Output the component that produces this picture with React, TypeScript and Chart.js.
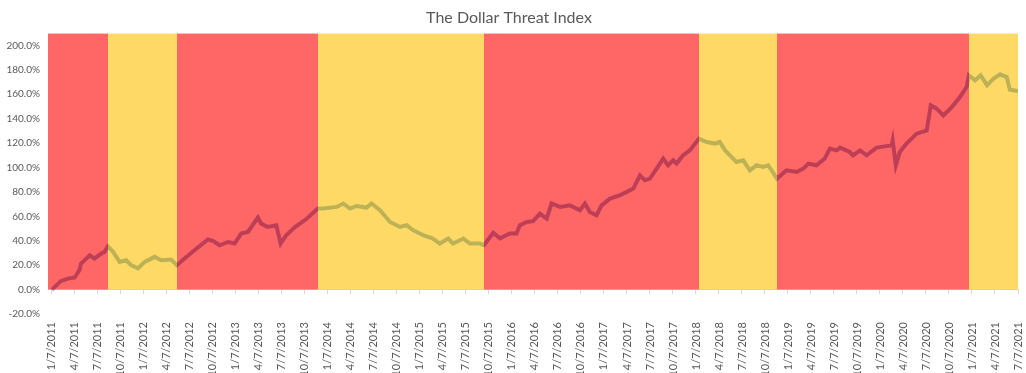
import React, { useEffect, useRef } from 'react';
import { Chart, registerables } from 'chart.js';

Chart.register(...registerables);

const chartTitle = 'The Dollar Threat Index';

// Index observations (date, percent)
const dates: string[] = [
  '2011-01-07', '2011-02-13', '2011-03-10', '2011-04-06', '2011-04-25', '2011-05-01', '2011-06-05', '2011-06-24',
  '2011-07-20', '2011-08-03', '2011-08-16', '2011-09-06', '2011-10-02', '2011-10-28', '2011-11-17', '2011-12-14',
  '2012-01-10', '2012-02-19', '2012-03-15', '2012-04-24', '2012-05-16', '2012-06-16', '2012-07-25', '2012-09-18',
  '2012-10-07', '2012-11-03', '2012-12-06', '2013-01-02', '2013-01-28', '2013-02-24', '2013-04-03', '2013-04-16',
  '2013-05-12', '2013-06-15', '2013-07-02', '2013-07-24', '2013-08-27', '2013-10-14', '2013-11-28', '2013-12-19',
  '2014-02-11', '2014-03-07', '2014-04-03', '2014-04-29', '2014-06-08', '2014-06-28', '2014-07-31', '2014-09-10',
  '2014-10-19', '2014-11-15', '2014-12-11', '2015-01-20', '2015-02-28', '2015-03-25', '2015-04-28', '2015-05-17',
  '2015-06-27', '2015-07-23', '2015-09-01', '2015-09-18', '2015-10-24', '2015-11-20', '2015-12-29', '2016-01-25',
  '2016-02-08', '2016-03-05', '2016-03-30', '2016-04-27', '2016-05-23', '2016-06-12', '2016-07-15', '2016-08-24',
  '2016-10-03', '2016-10-23', '2016-11-12', '2016-12-08', '2016-12-28', '2017-01-31', '2017-03-10', '2017-04-06',
  '2017-05-02', '2017-05-28', '2017-06-17', '2017-07-07', '2017-08-03', '2017-08-29', '2017-09-18', '2017-10-08',
  '2017-10-21', '2017-11-17', '2017-12-13', '2018-01-19', '2018-02-19', '2018-03-21', '2018-04-10', '2018-05-01',
  '2018-05-20', '2018-06-16', '2018-07-12', '2018-08-08', '2018-09-04', '2018-09-30', '2018-10-20', '2018-11-03',
  '2018-11-24', '2019-01-01', '2019-02-11', '2019-03-07', '2019-03-27', '2019-04-29', '2019-06-01', '2019-06-21',
  '2019-07-18', '2019-07-31', '2019-09-09', '2019-09-22', '2019-10-19', '2019-11-15', '2019-12-24', '2020-01-27',
  '2020-02-23', '2020-02-27', '2020-03-09', '2020-03-25', '2020-04-21', '2020-05-31', '2020-07-10', '2020-07-26',
  '2020-08-19', '2020-09-15', '2020-10-18', '2020-11-20', '2020-12-16', '2020-12-25', '2021-01-19', '2021-02-11',
  '2021-03-06', '2021-03-31', '2021-04-27', '2021-05-23', '2021-06-05', '2021-07-07',
];

const indexValues: number[] = [
  0.0, 7.1, 9.0, 9.9, 15.9, 21.4, 28.0, 25.4,
  29.5, 30.9, 35.5, 31.0, 22.7, 24.0, 20.0, 17.3,
  22.7, 26.8, 24.0, 24.6, 20.0, 25.4, 32.2, 41.0,
  39.9, 36.3, 39.0, 37.7, 45.9, 47.2, 59.0, 54.0,
  51.3, 52.7, 37.7, 44.5, 51.0, 58.0, 66.4, 66.4,
  67.7, 70.5, 66.4, 68.5, 67.2, 70.5, 65.0, 55.4,
  51.3, 52.7, 48.6, 44.5, 41.8, 37.7, 41.8, 37.7,
  41.8, 37.7, 37.7, 36.5, 46.5, 42.0, 45.9, 46.0,
  52.7, 55.4, 56.0, 62.2, 58.2, 70.5, 67.7, 69.0,
  65.0, 70.5, 63.6, 60.9, 69.0, 74.5, 77.3, 80.0,
  82.7, 93.6, 89.5, 90.9, 99.1, 107.3, 101.8, 105.9,
  103.2, 110.0, 114.0, 123.6, 120.9, 119.6, 120.9, 114.0,
  110.0, 104.5, 105.9, 97.7, 101.8, 100.4, 101.8, 97.7,
  90.9, 97.7, 96.3, 99.1, 103.2, 101.8, 107.3, 115.5,
  114.0, 116.3, 112.7, 110.0, 114.0, 110.0, 116.3, 117.3,
  118.2, 122.2, 101.8, 112.7, 119.6, 127.7, 130.4, 150.9,
  148.2, 142.7, 149.5, 157.7, 165.9, 175.5, 171.4, 175.5,
  167.3, 172.7, 176.3, 174.1, 163.7, 162.6,
];

// Regime shading: boundaries and the regime between each pair of boundaries
const regimeBounds: string[] = [
  '2010-12-22', '2011-08-16', '2012-05-16', '2013-11-28', '2015-09-18',
  '2018-01-19', '2018-11-24', '2020-12-25', '2021-07-07',
];
const regimes: string[] = ['red', 'gold', 'red', 'gold', 'red', 'gold', 'red', 'gold'];
const bandTop = 210;

const tickLabels: string[] = [
  '1/7/2011', '4/7/2011', '7/7/2011', '10/7/2011',
  '1/7/2012', '4/7/2012', '7/7/2012', '10/7/2012',
  '1/7/2013', '4/7/2013', '7/7/2013', '10/7/2013',
  '1/7/2014', '4/7/2014', '7/7/2014', '10/7/2014',
  '1/7/2015', '4/7/2015', '7/7/2015', '10/7/2015',
  '1/7/2016', '4/7/2016', '7/7/2016', '10/7/2016',
  '1/7/2017', '4/7/2017', '7/7/2017', '10/7/2017',
  '1/7/2018', '4/7/2018', '7/7/2018', '10/7/2018',
  '1/7/2019', '4/7/2019', '7/7/2019', '10/7/2019',
  '1/7/2020', '4/7/2020', '7/7/2020', '10/7/2020',
  '1/7/2021', '4/7/2021', '7/7/2021',
];

const REGIME_COLORS: Record<string, string> = {
  red: 'rgba(255, 0, 0, 0.6)',
  gold: 'rgba(255, 192, 0, 0.6)',
};
const LINE_COLOR = '#5B9BD5';
const TEXT_COLOR = '#595959';
const FONT = 'Lato';

// months since 2011-01-07
function isoToMonths(s: string): number {
  const [y, m, d] = s.split('-').map(Number);
  return (y - 2011) * 12 + (m - 1) + (d - 7) / 30.44;
}
function usToMonths(s: string): number {
  const [m, d, y] = s.split('/').map(Number);
  return (y - 2011) * 12 + (m - 1) + (d - 7) / 30.44;
}

export default function App() {
  const ref = useRef<HTMLCanvasElement>(null);

  useEffect(() => {
    if (!ref.current) return;
    const xMin = isoToMonths(regimeBounds[0]);
    const xMax = isoToMonths(regimeBounds[regimeBounds.length - 1]);
    const tickPos = tickLabels.map(usToMonths);
    const setTicks = (s: any) => {
      s.ticks = tickPos.map((v) => ({ value: v }));
    };

    // one filled region spanning all regimes, coloured per regime via the x scale
    const regimeFill = (c: any) => {
      const chart = c.chart;
      const area = chart.chartArea;
      const xs = chart.scales.x;
      if (!area || !xs) return 'rgba(0,0,0,0)';
      const w = area.right - area.left;
      const g = chart.ctx.createLinearGradient(area.left, 0, area.right, 0);
      const clamp = (v: number) => Math.min(1, Math.max(0, v));
      regimes.forEach((r, i) => {
        const a = clamp((xs.getPixelForValue(isoToMonths(regimeBounds[i])) - area.left) / w);
        const b = clamp((xs.getPixelForValue(isoToMonths(regimeBounds[i + 1])) - area.left) / w);
        g.addColorStop(a, REGIME_COLORS[r]);
        g.addColorStop(b, REGIME_COLORS[r]);
      });
      return g;
    };

    const chart = new Chart(ref.current, {
      type: 'line',
      data: {
        datasets: [
          {
            type: 'line' as const,
            label: 'Regime',
            data: [
              { x: xMin, y: bandTop },
              { x: xMax, y: bandTop },
            ],
            fill: 'origin',
            backgroundColor: regimeFill,
            borderWidth: 0,
            pointRadius: 0,
            order: 0,
          },
          {
            type: 'line' as const,
            label: chartTitle,
            data: dates.map((d, i) => ({ x: isoToMonths(d), y: indexValues[i] })),
            borderColor: LINE_COLOR,
            borderWidth: 4,
            pointRadius: 0,
            tension: 0,
            fill: false,
            order: 1,
          },
        ] as any,
      },
      options: {
        responsive: false,
        animation: false,
        layout: { padding: { left: 0, right: 8, top: 0, bottom: 0 } },
        plugins: {
          legend: { display: false },
          tooltip: { enabled: false },
          title: {
            display: true,
            text: chartTitle,
            color: TEXT_COLOR,
            font: { family: FONT, size: 16, weight: 'normal' },
            padding: { top: 8, bottom: 6 },
          },
        },
        scales: {
          x: {
            type: 'linear',
            min: xMin,
            max: xMax,
            afterBuildTicks: setTicks,
            afterFit: (s: any) => {
              s.height = 59;
              s.paddingLeft = 0;
              s.paddingRight = 0;
            },
            ticks: {
              autoSkip: false,
              minRotation: 90,
              maxRotation: 90,
              padding: 8,
              color: TEXT_COLOR,
              font: { family: FONT, size: 11 },
              callback: (_v: any, i: number) => tickLabels[i],
            },
            grid: { display: false, drawTicks: false },
            border: { display: false },
          },
          x0: {
            type: 'linear',
            position: { y: 0 },
            min: xMin,
            max: xMax,
            afterBuildTicks: setTicks,
            ticks: { display: false },
            grid: { drawOnChartArea: false, drawTicks: true, tickLength: 4, color: '#D9D9D9' },
            border: { display: true, color: '#D9D9D9' },
          },
          y: {
            type: 'linear',
            min: -20,
            max: 210,
            afterBuildTicks: (s: any) => {
              s.ticks = s.ticks.filter((t: any) => t.value <= 200);
            },
            afterFit: (s: any) => {
              s.width = 48;
            },
            ticks: {
              stepSize: 20,
              padding: 8,
              color: TEXT_COLOR,
              font: { family: FONT, size: 10 },
              callback: (v: any) => Number(v).toFixed(1) + '%',
            },
            grid: { display: false, drawTicks: false },
            border: { display: false },
          },
        },
      } as any,
    });
    return () => chart.destroy();
  }, []);

  return (
    <div style={{ position: 'absolute', left: 0, top: 0, width: 1026, height: 373, background: '#fff' }}>
      <canvas ref={ref} width={1026} height={373} />
    </div>
  );
}
